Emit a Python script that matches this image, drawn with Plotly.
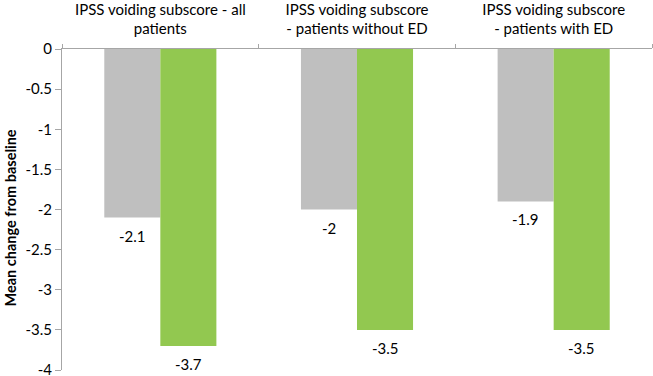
import plotly.graph_objects as go

categories = ["IPSS voiding subscore - all<br>patients",
              "IPSS voiding subscore<br>- patients without ED",
              "IPSS voiding subscore<br>- patients with ED"]
series_gray = [-2.1, -2.0, -1.9]
series_green = [-3.7, -3.5, -3.5]
y_ticks = [0, -0.5, -1, -1.5, -2, -2.5, -3, -3.5, -4]
y_tick_labels = ["0", "-0.5", "-1", "-1.5", "-2", "-2.5", "-3", "-3.5", "-4"]
y_title = "Mean change from baseline"

FONT = "Lato, 'Open Sans', sans-serif"
W, H = 653, 376
ML, MR, MT, MB = 62, 1, 49, 6
BARGAP = 0.43

fig = go.Figure()
fig.add_trace(go.Bar(x=categories, y=series_gray, marker=dict(color="#BFBFBF", line=dict(width=0))))
fig.add_trace(go.Bar(x=categories, y=series_green, marker=dict(color="#92C850", line=dict(width=0))))

# data labels below each bar end (Excel "outside end" style)
cat_px = (W - ML - MR) / len(categories)
bar_px = cat_px * (1 - BARGAP) / 2
for vals, sign in ((series_gray, -1), (series_green, 1)):
    for c, v in zip(categories, vals):
        fig.add_annotation(x=c, y=v, text="%g" % v, showarrow=False,
                           xshift=sign * bar_px / 2, yshift=-18,
                           font=dict(size=15, color="#000000", family=FONT))

# y-axis title
fig.add_annotation(xref="paper", yref="paper", x=0, y=0.5, xshift=-52, yshift=-9,
                   xanchor="center", yanchor="middle",
                   text="<b>%s</b>" % y_title, textangle=-90, showarrow=False,
                   font=dict(size=14.5, family=FONT, color="#000000"))

fig.update_layout(
    width=W, height=H,
    margin=dict(l=ML, r=MR, t=MT, b=MB),
    barmode="group", bargap=BARGAP, bargroupgap=0,
    showlegend=False,
    plot_bgcolor="white", paper_bgcolor="white",
    font=dict(family=FONT, size=15, color="#000000"),
)
fig.update_xaxes(side="top", showline=True, linecolor="#A6A6A6", linewidth=1,
                 ticks="outside", tickson="boundaries", ticklen=4, tickcolor="#A6A6A6",
                 showgrid=False, zeroline=False, automargin=False, ticklabelstandoff=8,
                 ticklabeloverflow="allow",
                 tickfont=dict(size=15, family=FONT, color="#000000"))
fig.update_yaxes(range=[-4, 0], tickvals=y_ticks, ticktext=y_tick_labels,
                 showline=True, linecolor="#A6A6A6", linewidth=1,
                 ticks="outside", ticklen=6, tickcolor="#A6A6A6",
                 showgrid=False, zeroline=False, automargin=False,
                 ticklabeloverflow="allow",
                 tickfont=dict(size=15, family=FONT, color="#000000"))
fig.write_html("out.html", config={"displayModeBar": False},
               post_script="document.body.style.margin='0';")
